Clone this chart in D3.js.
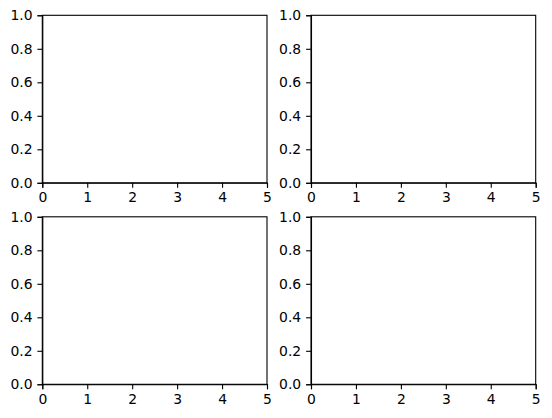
<!DOCTYPE html>
<html>
<head>
<meta charset="utf-8">
<script src="https://cdn.jsdelivr.net/npm/d3@7"></script>
<style>
  body { margin: 0; background: #fff; }
  svg { display: block; }
  .tick text { font-family: "DejaVu Sans", sans-serif; font-size: 13.9px; fill: #000; }
  .tick line, .domain { stroke: #000; stroke-width: 1.1px; }
</style>
</head>
<body>
<script>
// axis ranges and ticks shared by the four empty panels
const xDomain = [0, 5]
const yDomain = [0, 1]
const xTicks = [0, 1, 2, 3, 4, 5]
const yTicks = [0, 0.2, 0.4, 0.6, 0.8, 1.0]
const panels = [
  { row: 0, col: 0 },
  { row: 0, col: 1 },
  { row: 1, col: 0 },
  { row: 1, col: 1 }
]

let W = 552, H = 418
let left0 = 42.3, colStep = 268.7, panelW = 224.7
let top0 = 15.3, rowStep = 201.5, panelH = 167.5

let svg = d3.select("body").append("svg")
    .attr("width", W)
    .attr("height", H)

panels.forEach(p => {
    let x0 = left0 + p.col * colStep
    let y0 = top0 + p.row * rowStep

    let x = d3.scaleLinear().domain(xDomain).range([0, panelW])
    let y = d3.scaleLinear().domain(yDomain).range([panelH, 0])

    let g = svg.append("g")
        .attr("transform", "translate(" + x0 + "," + y0 + ")")

    // frame (top and right spines)
    g.append("rect")
        .attr("width", panelW)
        .attr("height", panelH)
        .attr("fill", "none")
        .attr("stroke", "#000")
        .attr("stroke-width", 1.1)

    let xAxis = g.append("g")
        .attr("transform", "translate(0," + panelH + ")")
        .call(d3.axisBottom(x).tickValues(xTicks).tickSize(4.9).tickPadding(4.9).tickFormat(d3.format("d")))
    xAxis.selectAll(".tick text").attr("dy", "0.71em")

    g.append("g")
        .call(d3.axisLeft(y).tickValues(yTicks).tickSize(4.9).tickPadding(4.9).tickFormat(d3.format(".1f")))
})
</script>
</body>
</html>
